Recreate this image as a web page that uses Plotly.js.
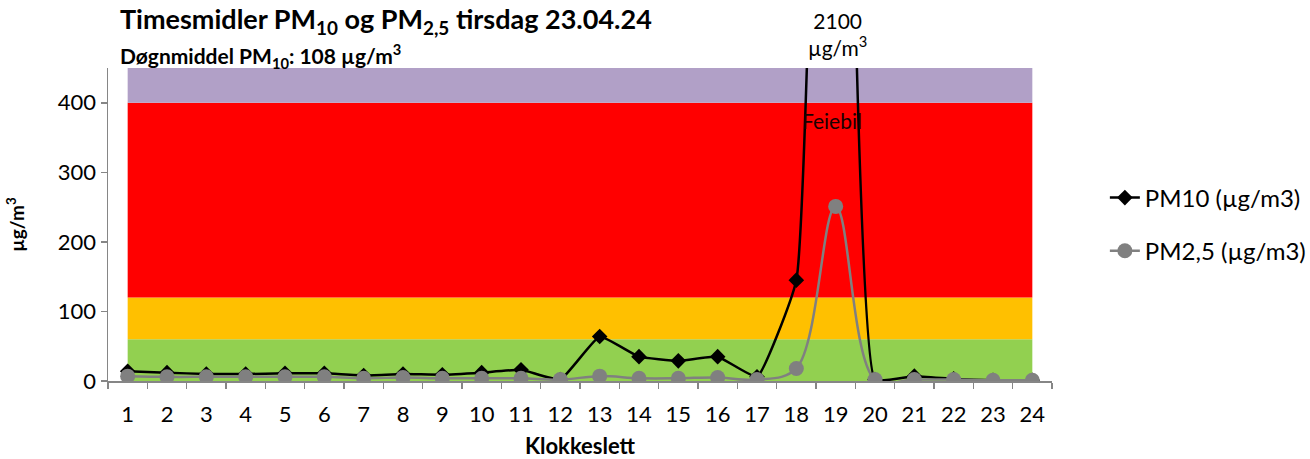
<!DOCTYPE html>
<html><head><meta charset="utf-8">
<script src="https://cdn.plot.ly/plotly-3.0.1.min.js"></script>
<style>html,body{margin:0;padding:0;background:#fff}#chart{width:1310px;height:459px}</style>
</head><body><div id="chart"></div>
<script>
const hours = [1,2,3,4,5,6,7,8,9,10,11,12,13,14,15,16,17,18,19,20,21,22,23,24];
const pm10 = [14,12,10,10,11,11,8,10,9,12,16,2,64,35,29,35,6,145,2100,2,7,3,1,1];
const pm25 = [7,6,6,6,6,6,4,5,4,4,4,2,7,4,4,5,2,18,251,2,2,2,1,1];
const bands = [
  {y0:0, y1:60, color:'#92D050'},
  {y0:60, y1:120, color:'#FFC000'},
  {y0:120, y1:400, color:'#FF0000'},
  {y0:400, y1:450, color:'#B1A0C7'}
];
const boundaries = [];
for (let i = 0; i <= 24; i++) boundaries.push(i + 0.5);

const font = 'Lato, "Open Sans", sans-serif';

const traces = [
  {x: hours, y: pm10, name: 'PM10 (µg/m3)', mode: 'lines+markers', type: 'scatter',
   line: {color: '#000000', width: 2.5, shape: 'spline', smoothing: 0.35},
   marker: {symbol: 'diamond', size: 12, color: '#000000'},
   legendgroup: 'a', cliponaxis: true},
  {x: hours, y: pm25, name: 'PM2,5 (µg/m3)', mode: 'lines+markers', type: 'scatter',
   line: {color: '#808080', width: 2.5, shape: 'spline', smoothing: 1},
   marker: {symbol: 'circle', size: 15, color: '#808080'},
   legendgroup: 'b', cliponaxis: true}
];

const shapes = bands.map(b => ({type: 'rect', layer: 'below', xref: 'x', yref: 'y',
  x0: 1, x1: 24, y0: b.y0, y1: b.y1, fillcolor: b.color, line: {width: 0}}));

const layout = {
  width: 1310, height: 459,
  margin: {l: 108, r: 258, t: 68, b: 78, autoexpand: false},
  paper_bgcolor: '#fff', plot_bgcolor: '#fff',
  font: {family: font, size: 22, color: '#000'},
  showlegend: true,
  legend: {x: 1.056, xanchor: 'left', y: 0.5, yanchor: 'middle', font: {size: 24, family: font},
    tracegroupgap: 19, bgcolor: 'rgba(0,0,0,0)'},
  xaxis: {range: [0.5, 24.5], tickvals: hours, ticktext: hours.map(String), ticks: '',
    showline: true, linecolor: '#868686', linewidth: 1.5, showgrid: false, zeroline: false,
    tickfont: {size: 22, family: font}, ticklabelstandoff: 13, automargin: false,
    minor: {tickvals: boundaries, ticks: 'outside', ticklen: 6, tickcolor: '#868686', tickwidth: 1.5, showgrid: false},
    title: {text: '<b>Klokkeslett</b>', font: {size: 22, family: font}, standoff: 20}},
  yaxis: {range: [0, 450], tickvals: [0, 100, 200, 300, 400], ticks: 'outside', ticklen: 6,
    tickcolor: '#868686', tickwidth: 1.5, showline: true, linecolor: '#868686', linewidth: 1.5,
    showgrid: false, zeroline: false, tickfont: {size: 22, family: font}, automargin: false,
    title: {text: '<b>µg/m<sup>3</sup></b>', font: {size: 19, family: font}, standoff: 28}},
  shapes: shapes,
  annotations: [
    {xref: 'paper', yref: 'paper', x: 0.011, y: 1.2172, xanchor: 'left', yanchor: 'top', align: 'left', showarrow: false,
     text: '<b>Timesmidler PM<sub>10</sub> og PM<sub>2,5</sub> tirsdag 23.04.24</b><br><span style="font-size:21px"><b>Døgnmiddel PM<sub>10</sub>: 108 µg/m<sup>3</sup></b></span>',
     font: {size: 27, family: font}},
    {xref: 'x', yref: 'paper', x: 19.05, y: 1.11, xanchor: 'center', yanchor: 'middle', showarrow: false,
     text: '2100<br>µg/m<sup>3</sup>', font: {size: 21, family: font}},
    {xref: 'x', yref: 'y', x: 18.9, y: 375, xanchor: 'center', yanchor: 'middle', showarrow: false,
     text: 'Feiebil', font: {size: 21, family: font, color: '#1a0000'}}
  ]
};

Plotly.newPlot('chart', traces, layout, {staticPlot: true, displayModeBar: false});
</script></body></html>
